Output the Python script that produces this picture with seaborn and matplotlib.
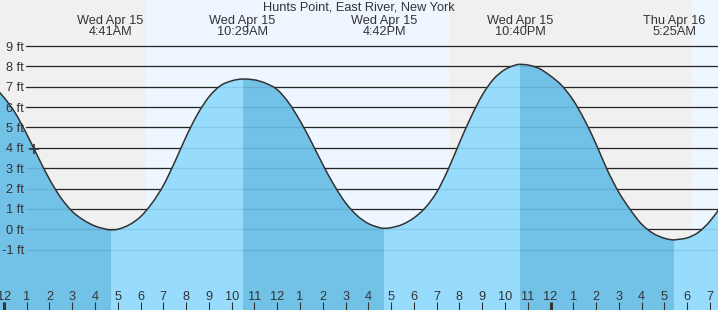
import numpy as np
import pandas as pd
import matplotlib
matplotlib.use("Agg")
import matplotlib.pyplot as plt
import seaborn as sns
from matplotlib.path import Path
from matplotlib.patches import PathPatch, Rectangle
from matplotlib.transforms import blended_transform_factory

# ---------------- data ----------------
title = "Hunts Point, East River, New York"

# water level, feet, sampled every half hour (hours since midnight Apr 15)
sample_hours = [-0.5, 0.0, 0.5, 1.0, 1.5, 2.0, 2.5, 3.0, 3.5, 4.0, 4.5,
                5.0, 5.5, 6.0, 6.5, 7.0, 7.5, 8.0, 8.5, 9.0, 9.5, 10.0, 10.5,
                11.0, 11.5, 12.0, 12.5, 13.0, 13.5, 14.0, 14.5, 15.0, 15.5,
                16.0, 16.5, 17.0, 17.5, 18.0, 18.5, 19.0, 19.5, 20.0, 20.5,
                21.0, 21.5, 22.0, 22.5, 23.0, 23.5, 24.0, 24.5, 25.0, 25.5,
                26.0, 26.5, 27.0, 27.5, 28.0, 28.5, 29.0, 29.5, 30.0, 30.5,
                31.0, 31.5]
sample_heights = [7.10, 6.48, 5.71, 4.68, 3.55, 2.46, 1.55, 0.88, 0.45, 0.16, 0.00,
                  0.00, 0.22, 0.62, 1.28, 2.15, 3.30, 4.55, 5.65, 6.50, 7.05, 7.29, 7.38,
                  7.34, 7.17, 6.86, 6.22, 5.33, 4.29, 3.18, 2.16, 1.30, 0.68,
                  0.28, 0.08, 0.08, 0.24, 0.56, 1.06, 1.82, 2.93, 4.25, 5.50,
                  6.59, 7.38, 7.85, 8.08, 8.07, 7.90, 7.53, 7.05, 6.33, 5.35,
                  4.18, 2.89, 1.81, 0.96, 0.25, -0.20, -0.44, -0.51, -0.42, -0.14,
                  0.40, 1.15]

# high / low tides
extreme_hours = [4.683, 10.483, 16.700, 22.667, 29.417]
extreme_heights = [-0.03, 7.38, 0.05, 8.10, -0.52]
extreme_days = ["Wed Apr 15", "Wed Apr 15", "Wed Apr 15", "Wed Apr 15", "Thu Apr 16"]
extreme_times = ["4:41AM", "10:29AM", "4:42PM", "10:40PM", "5:25AM"]

# sunrise, sunset, sunrise (hours)
sun_events = [6.25, 19.56, 30.23]

# current time marker
now_hour = [1.33]
now_height = [3.95]

grid_levels = [-1, 0, 1, 2, 3, 4, 5, 6, 7, 8, 9]
tick_hours = list(range(0, 32))
tick_labels = ["12", "1", "2", "3", "4", "5", "6", "7", "8", "9", "10", "11",
               "12", "1", "2", "3", "4", "5", "6", "7", "8", "9", "10", "11",
               "12", "1", "2", "3", "4", "5", "6", "7"]
midnight_hours = [0, 24]

# ---------------- style ----------------
sns.set_style("white")
plt.rcParams['font.family'] = ['Liberation Sans', 'DejaVu Sans']

W, H = 718, 310
NIGHT = "#f0f0f0"
DAY = "#eef7ff"
FALLING = "#72c1e6"
RISING = "#97dcfd"
INK = "#333333"
FS = 9.2

df = pd.DataFrame({"hour": sample_hours + extreme_hours,
                   "height": sample_heights + extreme_heights,
                   "extreme": [False] * len(sample_hours) + [True] * len(extreme_hours)})
df = df.sort_values("hour").reset_index(drop=True)

fig = plt.figure(figsize=(W / 100, H / 100), dpi=100)
ax = fig.add_axes([0, 0, 1, 1])
x0, x1 = -0.171, 31.35
y0, y1 = -3.964, 11.262

# day / night bands
bounds = [x0] + sun_events + [x1]
band_cols = [NIGHT, DAY, NIGHT, DAY]
for a, b, c in zip(bounds[:-1], bounds[1:], band_cols):
    ax.axvspan(a, b, color=c, lw=0, zorder=0)

# grid lines (dark where above water)
gx = 26 / W
for lvl in grid_levels:
    ax.axhline(lvl, xmin=gx, xmax=1, color="#2a2a2a", lw=0.9, zorder=1)

# smooth (cubic Hermite / Bezier) rendering of the sampled water level
xs = df["hour"].to_numpy()
ys = df["height"].to_numpy()
ext = df["extreme"].to_numpy()
n = len(xs)
m = np.zeros(n)
for i in range(n):
    if ext[i]:
        m[i] = 0.0
    elif i == 0:
        m[i] = (ys[1] - ys[0]) / (xs[1] - xs[0])
    elif i == n - 1:
        m[i] = (ys[-1] - ys[-2]) / (xs[-1] - xs[-2])
    else:
        m[i] = (ys[i + 1] - ys[i - 1]) / (xs[i + 1] - xs[i - 1])
verts = [(xs[0], ys[0])]
codes = [Path.MOVETO]
for i in range(n - 1):
    h = xs[i + 1] - xs[i]
    verts += [(xs[i] + h / 3, ys[i] + m[i] * h / 3),
              (xs[i + 1] - h / 3, ys[i + 1] - m[i + 1] * h / 3),
              (xs[i + 1], ys[i + 1])]
    codes += [Path.CURVE4] * 3
curve_path = Path(verts, codes)
fill_path = Path(verts + [(xs[-1], y0 - 1), (xs[0], y0 - 1), (xs[0], ys[0])],
                 codes + [Path.LINETO, Path.LINETO, Path.CLOSEPOLY])

# water fills: falling = darker, rising = lighter
ax.add_patch(PathPatch(fill_path, facecolor=FALLING, edgecolor="none", zorder=2))
seg_b = extreme_hours + [xs[-1]]
for a, b in zip(seg_b[0::2], seg_b[1::2]):
    p = PathPatch(fill_path, facecolor=RISING, edgecolor="none", zorder=2.1)
    ax.add_patch(p)
    rect = Rectangle((a, y0 - 1), b - a, 20, transform=ax.transData)
    p.set_clip_path(rect)

# faint lines over water
for lvl in grid_levels:
    ax.axhline(lvl, xmin=gx, xmax=1, color="black", alpha=0.09, lw=0.9, zorder=3)

# tide curve
ax.add_patch(PathPatch(curve_path, facecolor="none", edgecolor=INK, lw=1.1, zorder=4))

# current-time marker
sns.scatterplot(x=now_hour, y=now_height, ax=ax, marker="+", s=55,
                linewidth=1.2, color=INK, zorder=5, legend=False)

ax.set_xlim(x0, x1)
ax.set_ylim(y0, y1)
ax.axis("off")

# y labels
ty = blended_transform_factory(ax.transAxes, ax.transData)
for lvl in grid_levels:
    ax.text(24 / W, lvl - 4.5 / 20.36, f"{lvl} ft", transform=ty,
            ha="right", va="baseline", fontsize=FS, color=INK, zorder=6)

# bottom ticks and labels
tx = blended_transform_factory(ax.transData, ax.transAxes)
normal = [h for h in tick_hours if h not in midnight_hours]
ax.vlines(normal, 0, 8 / H, transform=tx, colors=INK, lw=0.8, zorder=6)
ax.vlines(midnight_hours, 0, 8 / H, transform=tx, colors=INK, lw=2.2, zorder=6)
for h, lab in zip(tick_hours, tick_labels):
    ax.text(h, 1 - 300 / H, lab, transform=tx, ha="center", va="baseline",
            fontsize=FS, color=INK, zorder=6)

# top labels
for h, d, t in zip(extreme_hours, extreme_days, extreme_times):
    ax.text(h, 1 - 24 / H, d, transform=tx, ha="center", va="baseline",
            fontsize=FS, color=INK, zorder=6)
    ax.text(h, 1 - 35.3 / H, t, transform=tx, ha="center", va="baseline",
            fontsize=FS, color=INK, zorder=6)

ax.text(0.5, 1 - 11 / H, title, transform=ax.transAxes, ha="center",
        va="baseline", fontsize=FS, color=INK, zorder=6)

fig.savefig("out.png", dpi=100)
